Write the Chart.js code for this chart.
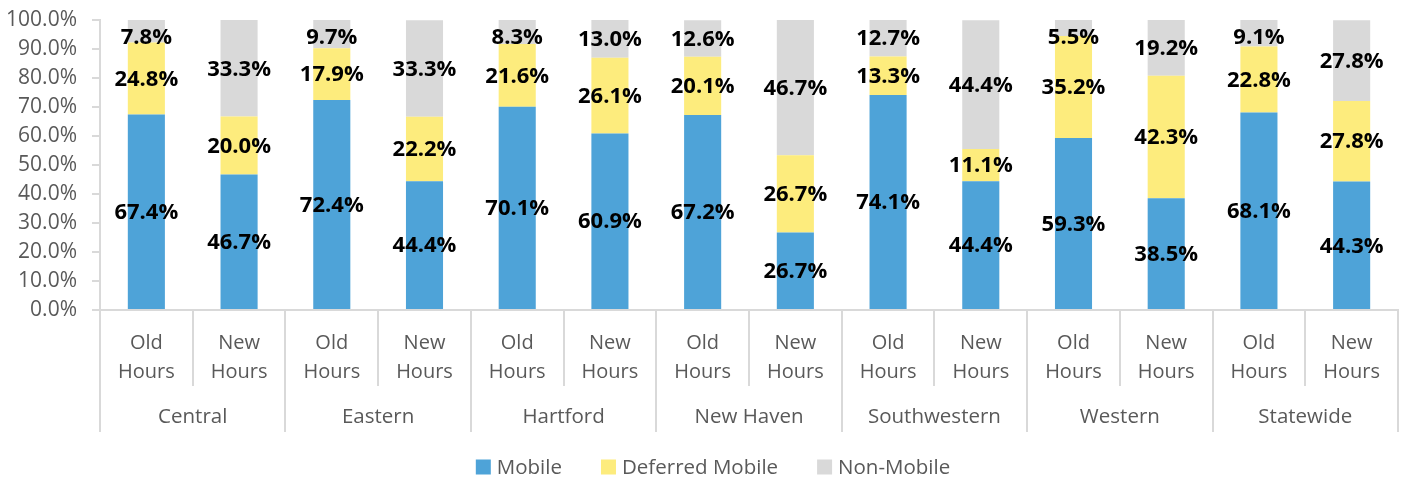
<!DOCTYPE html>
<html>
<head>
<meta charset="utf-8">
<script src="https://cdn.jsdelivr.net/npm/chart.js@4"></script>
<style>
html,body{margin:0;padding:0;background:#fff;}
#wrap{width:1411px;height:481px;position:relative;}
</style>
</head>
<body>
<div id="wrap"><canvas id="c" width="1411" height="481"></canvas></div>
<script>
const regions = ['Central','Eastern','Hartford','New Haven','Southwestern','Western','Statewide'];
const periods = [['Old','Hours'],['New','Hours']];
const mobile = [67.4,46.7,72.4,44.4,70.1,60.9,67.2,26.7,74.1,44.4,59.3,38.5,68.1,44.3];
const deferredMobile = [24.8,20.0,17.9,22.2,21.6,26.1,20.1,26.7,13.3,11.1,35.2,42.3,22.8,27.8];
const nonMobile = [7.8,33.3,9.7,33.3,8.3,13.0,12.6,46.7,12.7,44.4,5.5,19.2,9.1,27.8];
const seriesNames = ['Mobile','Deferred Mobile','Non-Mobile'];
const yTicks = [0,10,20,30,40,50,60,70,80,90,100];

const FONT = "'Open Sans', 'DejaVu Sans', sans-serif";
const GREY_TEXT = '#595959';
const AXIS = '#d9d9d9';
const colors = ['#4ea3d8','#fdec7d','#d9d9d9'];

const labels = [];
regions.forEach(() => periods.forEach(p => labels.push(p)));

const dataLabels = {
  id: 'dataLabels',
  afterDatasetsDraw(chart) {
    const ctx = chart.ctx;
    ctx.save();
    ctx.font = "bold 22px " + FONT;
    ctx.fillStyle = '#000';
    ctx.textAlign = 'center';
    ctx.textBaseline = 'middle';
    chart.data.datasets.forEach((ds, di) => {
      const meta = chart.getDatasetMeta(di);
      meta.data.forEach((el, i) => {
        const v = ds.data[i];
        let y = (el.y + el.base) / 2;
        if (y < chart.chartArea.top + 17) y = chart.chartArea.top + 17;
        ctx.fillText(v.toFixed(1) + '%', el.x, y + 1);
      });
    });
    ctx.restore();
  }
};

const groupAxis = {
  id: 'groupAxis',
  afterDraw(chart) {
    const ctx = chart.ctx;
    const xs = chart.scales.x;
    const n = labels.length;
    const slot = (xs.right - xs.left) / n;
    const bottom = chart.chartArea.bottom;
    ctx.save();
    ctx.strokeStyle = AXIS;
    ctx.lineWidth = 2;
    for (let i = 0; i <= n; i++) {
      const x = Math.round(xs.left + i * slot);
      const end = (i % periods.length === 0) ? 432 : 386;
      ctx.beginPath();
      ctx.moveTo(x, bottom);
      ctx.lineTo(x, end);
      ctx.stroke();
    }
    ctx.fillStyle = GREY_TEXT;
    ctx.font = "20.5px " + FONT;
    ctx.textAlign = 'center';
    ctx.textBaseline = 'middle';
    regions.forEach((r, gi) => {
      const x = xs.left + (gi * periods.length + periods.length / 2) * slot;
      ctx.fillText(r, x, 417);
    });
    // legend
    const box = 15, gapBox = 6, gapItem = 39;
    const widths = seriesNames.map(s => ctx.measureText(s).width);
    const total = widths.reduce((a, w) => a + box + gapBox + w, 0) + gapItem * (seriesNames.length - 1);
    let lx = 713 - total / 2;
    const ly = 467;
    seriesNames.forEach((s, i) => {
      ctx.fillStyle = chart.data.datasets[i].backgroundColor;
      ctx.fillRect(lx, ly - box / 2, box, box);
      ctx.fillStyle = GREY_TEXT;
      ctx.textAlign = 'left';
      ctx.fillText(s, lx + box + gapBox, ly + 1);
      lx += box + gapBox + widths[i] + gapItem;
    });
    ctx.restore();
  }
};

new Chart(document.getElementById('c'), {
  type: 'bar',
  data: {
    labels: labels,
    datasets: [
      { label: seriesNames[0], data: mobile, backgroundColor: colors[0] },
      { label: seriesNames[1], data: deferredMobile, backgroundColor: colors[1] },
      { label: seriesNames[2], data: nonMobile, backgroundColor: colors[2] }
    ]
  },
  options: {
    responsive: false,
    animation: false,
    layout: { padding: { top: 20, right: 13, left: 0, bottom: 0 } },
    datasets: { bar: { categoryPercentage: 1.0, barPercentage: 0.4, borderWidth: 0 } },
    plugins: { legend: { display: false }, tooltip: { enabled: false } },
    scales: {
      x: {
        stacked: true,
        grid: { display: false },
        border: { display: true, color: AXIS, width: 2 },
        ticks: {
          color: GREY_TEXT,
          font: { family: FONT, size: 20, lineHeight: 1.45 },
          padding: 11,
          maxRotation: 0,
          autoSkip: false
        },
        afterFit(scale) { scale.height = 171; scale.paddingLeft = 0; scale.paddingRight = 0; }
      },
      y: {
        stacked: true,
        min: 0,
        max: 100,
        afterBuildTicks(scale) { scale.ticks = yTicks.map(v => ({ value: v })); },
        grid: { drawOnChartArea: false, drawTicks: true, tickLength: 8, color: AXIS, lineWidth: 2 },
        border: { display: true, color: AXIS, width: 2 },
        ticks: {
          color: GREY_TEXT,
          font: { family: FONT, size: 21 },
          padding: 15,
          callback: v => v.toFixed(1) + '%'
        },
        afterFit(scale) { scale.width = 100; scale.paddingTop = 0; scale.paddingBottom = 0; }
      }
    }
  },
  plugins: [dataLabels, groupAxis]
});
</script>
</body>
</html>
